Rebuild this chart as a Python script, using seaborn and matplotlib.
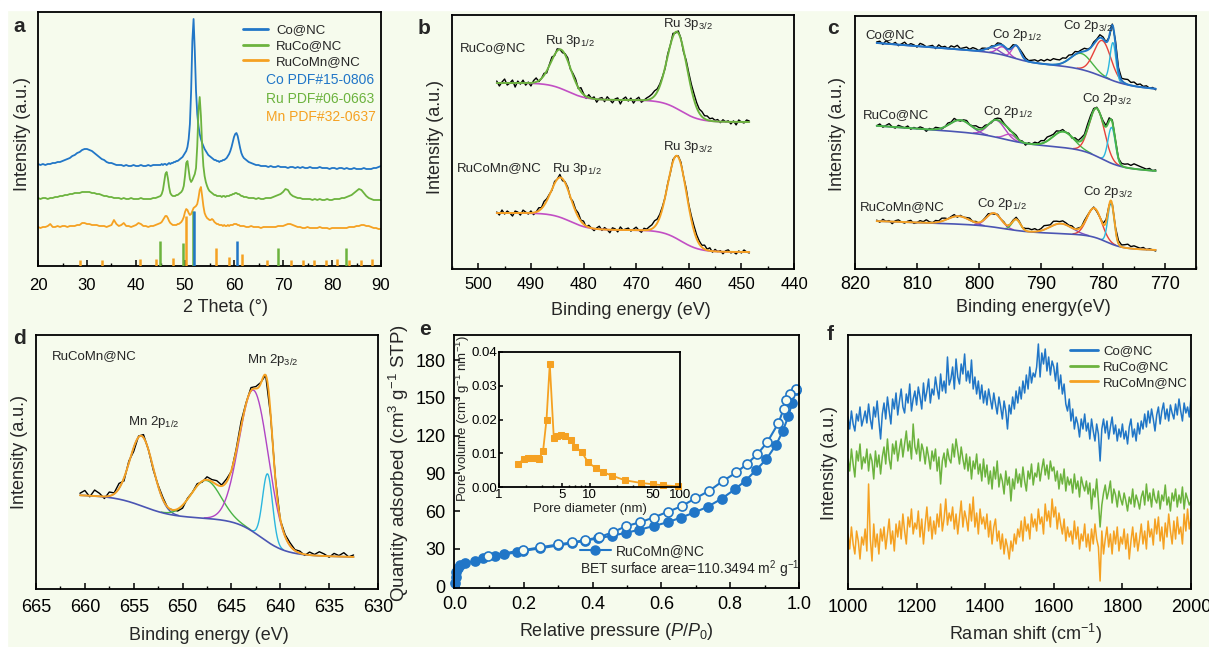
import numpy as np
import matplotlib
matplotlib.use("Agg")
import matplotlib.pyplot as plt
import seaborn as sns
from matplotlib.lines import Line2D
from matplotlib.patches import Rectangle
from matplotlib.ticker import (MultipleLocator, FixedLocator, NullLocator,
                               NullFormatter, FixedFormatter, FormatStrFormatter)

sns.set_style("ticks")
plt.rcParams["font.family"] = ["Liberation Sans", "DejaVu Sans"]
plt.rcParams["mathtext.fontset"] = "custom"
plt.rcParams["mathtext.rm"] = "Liberation Sans"
plt.rcParams["mathtext.it"] = "Liberation Sans:italic"
plt.rcParams["mathtext.bf"] = "Liberation Sans:bold"

W, H = 1209, 647
BG = "#f6fbed"
BLUE = "#2176c7"
GREEN = "#6cb33e"
ORANGE = "#f5a122"
MAGENTA = "#c24fc4"
SLATE = "#4b55b3"
RED = "#e8413a"
CYAN = "#2bb6de"
PURPLE = "#7b4fc2"
VIOLET = "#b044c4"
FITGREEN = "#49b345"

# ---------------- (a) XRD patterns ----------------
sample_names = ["Co@NC", "RuCo@NC", "RuCoMn@NC"]
xrd_theta = np.concatenate([np.arange(20, 45, 0.5), np.arange(45, 62, 0.25),
                            np.arange(62, 90.25, 0.5)])
xrd_co = [102, 101, 102, 101, 102, 102, 103, 103, 104, 104, 105, 106, 107, 108, 110, 111, 113, 114, 116, 117,
          117, 116, 115, 113, 111, 109, 107, 106, 104, 103, 103, 102, 101, 101, 101, 100, 101, 100, 100, 101,
          100, 100, 101, 100, 100, 101, 100, 101, 101, 101,
          101, 102, 101, 102, 102, 101, 102, 103, 102, 103, 103, 104, 104, 105, 105, 106, 107, 108, 109, 111,
          113, 115, 119, 127, 142, 175, 225, 247, 215, 175, 152, 140, 132, 127, 123, 120, 117, 115, 113, 111,
          110, 109, 108, 107, 106, 106, 105, 105, 104, 105, 105, 106, 106, 107, 108, 110, 112, 115, 119, 124,
          129, 132, 133, 130, 124, 118, 113, 110,
          108, 106, 104, 103, 102, 101, 101, 100, 100, 100, 99, 100, 99, 99, 100, 99, 99, 99, 98, 99,
          99, 98, 99, 98, 99, 98, 98, 99, 98, 98, 98, 99, 98, 98, 98, 97, 98, 98, 97, 98,
          98, 97, 98, 97, 97, 98, 97, 97, 97, 98, 97, 97, 97, 98, 98, 99, 100]
xrd_ruco = [68, 67, 68, 68, 67, 68, 68, 69, 69, 70, 70, 71, 71, 72, 72, 73, 73, 73, 74, 74,
            74, 74, 73, 73, 72, 72, 71, 70, 70, 69, 69, 68, 68, 68, 67, 68, 67, 67, 68, 67,
            67, 67, 68, 67, 67, 67, 67, 68, 68, 69,
            70, 72, 76, 84, 92, 94, 88, 79, 73, 71, 70, 70, 70, 71, 71, 72, 73, 74, 76, 80,
            90, 103, 105, 96, 87, 84, 86, 89, 92, 98, 120, 155, 169, 150, 120, 100, 90, 84, 80, 77,
            75, 74, 73, 72, 71, 71, 70, 70, 70, 70, 69, 70, 70, 69, 70, 70, 70, 71, 71, 72,
            72, 73, 73, 72, 72, 71, 70, 70,
            69, 69, 68, 68, 68, 67, 68, 67, 67, 68, 68, 68, 69, 70, 71, 72, 74, 77, 76, 72,
            70, 69, 68, 68, 67, 67, 67, 67, 66, 67, 66, 67, 66, 66, 67, 66, 66, 67, 67, 67,
            68, 68, 69, 70, 71, 73, 75, 77, 76, 73, 70, 68, 67, 66, 66, 66, 66]
xrd_rucomn = [39, 38, 39, 39, 40, 42, 39, 39, 40, 39, 40, 40, 39, 40, 40, 40, 41, 41, 43, 43,
              42, 42, 41, 41, 41, 40, 40, 40, 39, 40, 41, 46, 42, 40, 41, 43, 40, 40, 39, 40,
              41, 43, 42, 40, 40, 39, 40, 40, 41, 42,
              43, 44, 46, 48, 50, 50, 48, 45, 43, 42, 41, 41, 41, 41, 42, 42, 43, 44, 46, 49,
              54, 57, 56, 53, 51, 52, 55, 58, 59, 60, 62, 68, 76, 79, 70, 60, 53, 50, 48, 47,
              46, 46, 47, 46, 44, 43, 42, 42, 41, 41, 41, 40, 41, 40, 40, 41, 40, 41, 41, 41,
              42, 42, 42, 41, 41, 40, 40, 40,
              40, 39, 39, 40, 39, 39, 39, 38, 39, 39, 39, 39, 39, 39, 40, 40, 40, 41, 42, 42,
              41, 40, 39, 39, 38, 38, 39, 38, 38, 38, 38, 39, 38, 38, 38, 37, 38, 38, 38, 38,
              38, 38, 38, 39, 39, 39, 40, 40, 41, 41, 40, 40, 39, 38, 38, 37, 37]
pdf_labels = ["Co PDF#15-0806", "Ru PDF#06-0663", "Mn PDF#32-0637"]
co_pdf_pos = [51.8, 60.6]
co_pdf_h = [55, 25]
ru_pdf_pos = [44.9, 49.5, 51.6, 68.9, 82.8]
ru_pdf_h = [25, 23, 55, 18, 18]
mn_pdf_pos = [28.6, 33.0, 40.8, 44.1, 47.5, 50.3, 56.3, 59.0, 61.6, 66.7, 71.6, 74.0,
              76.4, 78.8, 81.1, 83.5, 85.9, 88.1]
mn_pdf_h = [6, 6, 7, 7, 8, 50, 18, 9, 12, 6, 6, 6, 6, 6, 7, 6, 6, 7]

# ---------------- (b) Ru 3p XPS ----------------
b_raw_be = np.arange(496.5, 448.4, -0.5)
b_fit_be = np.linspace(496.5, 448.5, 600)
b_centers = [484.3, 462.2]
b_ruco_height = [39, 77]
b_ruco_fwhm = [4.4, 4.4]
b_rucomn_height = [40, 83]
b_rucomn_fwhm = [4.3, 4.2]
b_ruco_bg = dict(base=147, slope=0.0, centers=[483.0, 461.5], sizes=[17, 22], widths=[1.8, 1.8])
b_rucomn_bg = dict(base=17, slope=0.0, centers=[482.5, 461.5], sizes=[17, 22], widths=[1.8, 1.8])
b_ruco_resid = [2, -3, 1, 4, -2, 0, 3, -4, 2, -1, 3, -2, 1, -3, 2, 4, -1, 0, 2, -2,
                1, 3, -1, 2, 0, -2, 1, 3, -1, 2, 3, -1, 4, 1, -2, 3, 0, 2, -3, 1,
                2, -2, 3, 0, -3, 1, 2, -4, 1, 3, -1, 2, -3, 1, 3, -2, 0, 2, 3, 4,
                5, 3, 2, 1, -1, 2, 0, 3, -1, 2, 1, -2, 3, 4, 5, 6, 5, 4, 5, 3,
                4, 2, 3, 1, 2, -1, 2, 0, 1, -2, 1, -3, 2, 0, -1, 2, 1]
b_rucomn_resid = [1, -2, 3, -1, 2, 0, -3, 2, 1, -2, 3, 1, -1, 2, -2, 0, 3, 1, 4, 2,
                  1, -1, 2, 0, 3, -2, 1, 2, -1, 3, 2, 4, 1, 3, -1, 2, 0, -2, 1, 3,
                  -1, 2, 0, -3, 2, 1, -2, 3, 0, 1, 2, -1, 1, 3, 0, -2, 2, 1, 3, 4,
                  6, 4, 3, 2, 0, 1, -1, 2, 0, 1, 2, 0, 3, 2, 4, 5, 4, 3, 2, 4,
                  1, 3, -1, 2, 0, 1, -2, 1, 2, -1, 0, -2, 1, -1, 2, 0, -1]

# ---------------- (c) Co 2p XPS ----------------
c_raw_be = np.arange(816.5, 771.4, -0.5)
c_fit_be = np.linspace(816.5, 771.5, 800)
c_co_centers = [797.8, 796.2, 794.0, 783.5, 780.1, 778.4]
c_co_height = [5, 8, 13, 16, 36, 38]
c_co_fwhm = [2.5, 2.0, 1.6, 4.0, 3.2, 1.1]
c_co_colors = [PURPLE, VIOLET, MAGENTA, FITGREEN, RED, CYAN]
c_co_bg = dict(base=180, slope=0.49, centers=[794.5, 780.0], sizes=[8, 16], widths=[1.5, 2.0])
c_ruco_centers = [803.0, 797.2, 795.0, 786.4, 781.0, 778.6]
c_ruco_height = [12, 17, 6, 16, 48, 36]
c_ruco_fwhm = [4.0, 3.2, 2.2, 4.0, 2.9, 1.4]
c_ruco_colors = [PURPLE, VIOLET, MAGENTA, FITGREEN, RED, CYAN]
c_ruco_bg = dict(base=98, slope=0.45, centers=[796.0, 780.3], sizes=[8, 17], widths=[2.0, 1.6])
c_rucomn_centers = [803.3, 797.6, 794.0, 786.8, 781.4, 778.7]
c_rucomn_height = [8, 14, 11, 10, 29, 41]
c_rucomn_fwhm = [4.0, 2.8, 1.6, 4.2, 2.8, 1.2]
c_rucomn_colors = [PURPLE, VIOLET, FITGREEN, PURPLE, RED, CYAN]
c_rucomn_bg = dict(base=19, slope=0.22, centers=[796.0, 779.5], sizes=[6, 13], widths=[2.0, 1.3])
c_co_resid = [1, 2, -1, 3, 1, 0, 2, -1, 1, 3, 0, 2, 1, -1, 3, 2, 0, 1, 2, -1,
              3, 1, 2, 0, 3, 2, 4, 1, 2, 3, 1, 3, 2, 0, 2, 1, -1, 1, 0, 2,
              1, 0, -1, 1, 2, 0, 1, 3, 2, 1, 2, 3, 2, 4, 3, 5, 4, 6, 5, 4,
              5, 3, 4, 2, 3, 1, 2, 3, 1, 0, 2, 1, 3, 2, 0, -1, 1, 4, 3, 2,
              4, 5, 3, 4, 2, 3, 1, 2, 0, 1, -1]
c_ruco_resid = [0, 2, -1, 1, 3, 0, -1, 2, 1, 0, 2, -1, 1, 0, 2, 1, -2, 1, 0, 2,
                1, -1, 0, 2, 1, 3, 0, -1, 1, 2, 0, 1, 3, 2, 1, 2, 0, -1, 1, 2,
                3, 1, 0, -1, 1, 2, 0, 1, -2, 1, 0, 2, 1, 3, 2, 4, 3, 2, 3, 1,
                2, 0, 1, -1, 2, 1, 3, 2, 4, 3, 2, 1, 0, 2, 1, 3, 2, 1, 0, 2,
                3, 4, 3, 5, 4, 3, 2, 1, 2, 0, 1]
c_rucomn_resid = [1, -1, 2, 0, 1, -2, 1, 2, 0, -1, 1, 2, -1, 0, 2, 1, 3, 1, 0, 2,
                  1, 3, 2, 0, 1, 2, -1, 1, 0, 1, 2, 0, 1, -1, 0, 1, 2, 0, -1, 1,
                  0, 1, -1, 0, 1, 2, 1, 0, 2, 3, 2, 3, 1, 2, 4, 3, 2, 4, 3, 2,
                  3, 2, 1, 2, 0, 1, 0, 2, 1, 0, 1, -1, 0, 1, 2, 0, 1, 2, 3, 2,
                  3, 4, 2, 3, 2, 1, 2, 0, 1, 0, -1]

# ---------------- (d) Mn 2p XPS ----------------
d_raw_be = np.arange(660.5, 632.4, -0.5)
d_fit_be = np.linspace(660.5, 632.5, 600)
d_centers = [654.2, 647.6, 642.7, 641.3]
d_height = [70, 38, 142, 68]
d_fwhm = [2.8, 3.6, 3.5, 1.2]
d_colors = [SLATE, FITGREEN, VIOLET, CYAN]
d_bg = dict(base=32, slope=0.25, centers=[642.0, 654.0], sizes=[35, 20], widths=[1.3, 1.5])
d_resid = [2, 5, -1, 6, 3, -2, 4, 1, 5, -3, 2, -4, 1, 3, 0, -2, 1, 2, -1, 0,
           -2, -3, 1, 0, 2, -1, 3, 2, 4, 1, 3, -1, 2, 5, 1, 3, 2, 1, 0, -2,
           1, -1, 2, 3, 1, 2, -1, 3, 1, 4, 2, -1, 3, 1, 4, 0, 2]

# ---------------- (e) N2 isotherm and pore size distribution ----------------
bet_p_ads = [0.001, 0.002, 0.004, 0.008, 0.015, 0.03, 0.058, 0.081, 0.117, 0.141, 0.18,
             0.199, 0.247, 0.30, 0.339, 0.377, 0.416, 0.456, 0.498, 0.536, 0.577, 0.619,
             0.657, 0.696, 0.734, 0.775, 0.814, 0.845, 0.874, 0.905, 0.934, 0.953, 0.969,
             0.98, 0.99]
bet_q_ads = [3, 8, 12, 15, 17, 18.5, 20.6, 22.5, 24.4, 25.7, 27.3, 28.5, 30.5, 32.8, 34.5,
             36.5, 38.5, 40.5, 42.9, 45.3, 48.2, 51.3, 55, 59, 63.5, 69.9, 77.5, 84.4, 92.4,
             101.3, 113, 123.8, 135.5, 146, 156.5]
bet_p_des = [0.99, 0.975, 0.963, 0.956, 0.94, 0.908, 0.879, 0.848, 0.818, 0.778, 0.739,
             0.698, 0.659, 0.619, 0.577, 0.539, 0.498, 0.459, 0.418, 0.377, 0.339, 0.30,
             0.247, 0.199, 0.097]
bet_q_des = [157, 153.5, 148, 141.6, 130, 115, 105.3, 97.4, 90.8, 83.9, 76.2, 70.2, 64,
             59.6, 55, 51.3, 48.2, 43.4, 39.2, 37, 35.2, 33.6, 31.3, 29.1, 24.5]
bet_label = "RuCoMn@NC"
bet_area_text = "BET surface area=110.3494 m$^2$ g$^{-1}$"
pore_d = [1.62, 1.88, 2.09, 2.34, 2.63, 2.8, 3.07, 3.35, 3.64, 4.03, 4.38, 4.85, 5.37,
          6.17, 6.98, 8.17, 9.67, 11.9, 14.1, 17.6, 24.6, 37.0, 50.8, 65.3, 94.5]
pore_v = [0.0067, 0.0084, 0.0087, 0.0087, 0.0086, 0.0084, 0.0107, 0.020, 0.0364, 0.0146,
          0.0152, 0.0155, 0.0152, 0.0139, 0.0119, 0.0104, 0.0073, 0.0055, 0.0044, 0.0034,
          0.0020, 0.0012, 0.0008, 0.0005, 0.0002]

# ---------------- (f) Raman spectra ----------------
raman_shift = np.arange(1000, 2000.5, 5)
raman_co = [172, 160, 178, 165, 158, 175, 168, 182, 163, 170, 178, 166, 185, 170, 160, 182, 172, 188, 168, 150,
            175, 186, 170, 192, 178, 165, 190, 180, 196, 174, 188, 200, 182, 176, 195, 186, 205, 178, 190, 198,
            184, 202, 192, 180, 206, 188, 198, 210, 186, 200, 194, 212, 200, 190, 215, 198, 208, 196, 232, 204,
            210, 222, 200, 230, 212, 205, 225, 215, 235, 208, 218, 206, 229, 200, 212, 195, 208, 190, 204, 186,
            198, 184, 200, 190, 180, 196, 185, 175, 192, 182, 170, 188, 178, 160, 184, 175, 192, 180, 198, 186,
            202, 190, 208, 196, 214, 200, 222, 206, 216, 212, 222, 245, 212, 236, 225, 240, 218, 232, 214, 228,
            222, 208, 226, 200, 214, 195, 205, 185, 178, 190, 168, 180, 160, 172, 165, 152, 170, 160, 175, 158,
            166, 150, 170, 158, 148, 165, 155, 128, 160, 170, 156, 168, 150, 162, 172, 155, 164, 148, 160, 152,
            165, 150, 158, 145, 162, 170, 152, 160, 148, 166, 155, 168, 160, 175, 162, 178, 166, 180, 170, 158,
            174, 182, 165, 178, 186, 170, 180, 168, 184, 176, 170, 185, 174, 190, 178, 168, 186, 176, 182, 172,
            192]
raman_ruco = [130, 118, 140, 125, 112, 138, 128, 145, 120, 132, 126, 140, 118, 135, 128, 110, 138, 122, 134, 115,
              132, 142, 125, 150, 130, 120, 145, 135, 148, 128, 140, 150, 132, 145, 158, 138, 148, 130, 165, 142,
              135, 150, 128, 145, 138, 125, 142, 132, 120, 138, 128, 140, 118, 132, 105, 128, 136, 122, 140, 130,
              126, 145, 132, 150, 138, 125, 142, 130, 120, 135, 118, 132, 110, 128, 120, 135, 115, 125, 108, 130,
              112, 124, 105, 118, 100, 122, 110, 128, 102, 115, 108, 95, 118, 104, 112, 88, 110, 100, 120, 106,
              115, 102, 122, 108, 98, 118, 110, 125, 104, 116, 112, 126, 108, 120, 130, 114, 124, 110, 128, 118,
              122, 108, 118, 100, 115, 105, 120, 98, 112, 104, 110, 96, 115, 100, 108, 92, 112, 104, 98, 108,
              95, 106, 80, 100, 92, 110, 88, 62, 84, 96, 104, 90, 98, 108, 86, 100, 94, 82, 98, 90,
              84, 96, 88, 78, 92, 85, 100, 82, 94, 88, 80, 92, 98, 84, 105, 88, 96, 82, 100, 90,
              86, 98, 80, 94, 88, 104, 84, 92, 78, 96, 88, 100, 82, 94, 86, 102, 80, 96, 90, 84,
              88]
raman_rucomn = [55, 40, 62, 45, 35, 58, 48, 30, 52, 44, 60, 38, 105, 50, 28, 65, 42, 55, 35, 60,
                48, 62, 40, 55, 70, 45, 58, 38, 65, 52, 68, 50, 75, 58, 45, 72, 62, 80, 55, 66,
                60, 78, 52, 70, 45, 65, 82, 58, 72, 50, 68, 55, 75, 62, 85, 58, 70, 90, 64, 76,
                68, 82, 60, 75, 55, 72, 88, 62, 78, 70, 58, 85, 68, 92, 62, 76, 55, 80, 65, 72,
                60, 75, 52, 68, 45, 62, 70, 48, 58, 40, 55, 35, 50, 42, 30, 48, 38, 55, 45, 60,
                52, 68, 48, 72, 58, 65, 50, 75, 62, 70, 58, 80, 65, 72, 55, 85, 68, 78, 62, 90,
                72, 82, 60, 76, 65, 55, 70, 48, 62, 52, 58, 45, 68, 50, 62, 40, 55, 48, 65, 42,
                55, 38, 60, 45, 65, 50, 42, 8, 58, 35, 50, 62, 42, 55, 35, 58, 45, 62, 38, 52,
                45, 60, 40, 55, 30, 48, 62, 42, 56, 38, 50, 65, 45, 58, 40, 68, 52, 60, 44, 70,
                55, 72, 48, 62, 40, 66, 52, 75, 58, 45, 68, 50, 72, 55, 62, 45, 75, 58, 80, 60,
                70]


# ---------------- helpers ----------------
def gauss(x, c, h, f):
    return h * np.exp(-4 * np.log(2) * ((x - c) / f) ** 2)


def step_bg(x, base, slope, centers, sizes, widths):
    y = base + slope * (x - x.min())
    for c, s, w in zip(centers, sizes, widths):
        y = y + s / (1 + np.exp(-(x - c) / w))
    return y


fig = plt.figure(figsize=(W / 100, H / 100), dpi=100, facecolor=BG)
fig.patches.append(Rectangle((0, 1 - 10 / H), 1, 10 / H, transform=fig.transFigure,
                             color="white", zorder=-5))
fig.patches.append(Rectangle((0, 0), 7 / W, 1, transform=fig.transFigure,
                             color="white", zorder=-5))


def fxy(x, y):
    return (x / W, 1 - y / H)


def frame(l, t, r, b):
    ax = fig.add_axes([l / W, 1 - b / H, (r - l) / W, (b - t) / H])
    ax.set_facecolor(BG)
    for s in ax.spines.values():
        s.set_visible(True)
        s.set_linewidth(1.3)
        s.set_color("black")
    ax.tick_params(which="both", direction="in", top=False, right=False, colors="black")
    ax.tick_params(which="major", length=4, width=1.1)
    ax.tick_params(which="minor", length=2.5, width=1.0)
    return ax


def labels(ax, xlab, xc, ylab, yc, size=13, ysize=None):
    ax.set_xlabel(xlab, fontsize=size, va="center", ha="center")
    ax.xaxis.set_label_coords(*fxy(*xc), transform=fig.transFigure)
    ax.set_ylabel(ylab, fontsize=ysize or size, va="center", ha="center")
    ax.yaxis.set_label_coords(*fxy(*yc), transform=fig.transFigure)


def note(text, x, y, size=9.5, ha="left", **kw):
    fig.text(x / W, 1 - y / H, text, fontsize=size, ha=ha, va="center", **kw)


def line(ax, x, y, color, lw=1.2, z=2, **kw):
    sns.lineplot(x=np.asarray(x, float), y=np.asarray(y, float), ax=ax, color=color,
                 linewidth=lw, sort=False, estimator=None, legend=False, zorder=z, **kw)


def no_y(ax):
    ax.yaxis.set_major_locator(NullLocator())
    ax.yaxis.set_minor_locator(NullLocator())


def xps(ax, fit_be, raw_be, resid, bg_par, centers, heights, fwhms, comp_colors, env_color,
        bg_color):
    bg = step_bg(fit_be, **bg_par)
    comps = [gauss(fit_be, c, h, f) for c, h, f in zip(centers, heights, fwhms)]
    env = bg + np.sum(comps, axis=0)
    raw_bg = step_bg(raw_be, **bg_par)
    raw = raw_bg + np.sum([gauss(raw_be, c, h, f) for c, h, f in zip(centers, heights, fwhms)],
                          axis=0) + np.asarray(resid, float)
    line(ax, raw_be, raw, "black", 1.0, z=2)
    for comp, col in zip(comps, comp_colors):
        m = comp > 0.4
        line(ax, fit_be[m], (bg + comp)[m], col, 1.0, z=3)
    line(ax, fit_be, bg, bg_color, 1.2, z=4)
    line(ax, fit_be, env, env_color, 1.4, z=5)


# ---------------- panel a ----------------
ax = frame(38, 12, 381, 266)
for ys, col in zip([xrd_co, xrd_ruco, xrd_rucomn], [BLUE, GREEN, ORANGE]):
    line(ax, xrd_theta, ys, col, 1.3)
ax.vlines(mn_pdf_pos, 0, mn_pdf_h, color=ORANGE, lw=1.8, zorder=3)
ax.vlines(ru_pdf_pos, 0, ru_pdf_h, color=GREEN, lw=1.8, zorder=3)
ax.vlines(co_pdf_pos, 0, co_pdf_h, color=BLUE, lw=1.8, zorder=3)
ax.set_xlim(20, 90)
ax.set_ylim(0, 254)
ax.xaxis.set_major_locator(MultipleLocator(10))
ax.xaxis.set_minor_locator(MultipleLocator(5))
no_y(ax)
ax.tick_params(axis="x", labelsize=12, pad=9)
labels(ax, "2 Theta (\u00b0)", (226, 308), "Intensity (a.u.)", (23, 134))
hs = [Line2D([], [], color=c, lw=2) for c in (BLUE, GREEN, ORANGE)]
ax.legend(hs, sample_names, loc="upper left", bbox_to_anchor=fxy(243, 24),
          bbox_transform=fig.transFigure, frameon=False, fontsize=9.5, handlelength=1.9,
          handletextpad=0.6, labelspacing=0.28, borderpad=0, borderaxespad=0)
for txt, col, yy in zip(pdf_labels, [BLUE, GREEN, ORANGE], [80, 99, 117]):
    note(txt, 266, yy, size=10, color=col)

# ---------------- panel b ----------------
ax = frame(452, 15, 794, 269)
xps(ax, b_fit_be, b_raw_be, b_ruco_resid, b_ruco_bg, b_centers, b_ruco_height, b_ruco_fwhm,
    [], GREEN, MAGENTA)
xps(ax, b_fit_be, b_raw_be, b_rucomn_resid, b_rucomn_bg, b_centers, b_rucomn_height,
    b_rucomn_fwhm, [], ORANGE, MAGENTA)
ax.set_xlim(505, 440)
ax.set_ylim(0, 254)
ax.xaxis.set_major_locator(MultipleLocator(10))
ax.xaxis.set_minor_locator(MultipleLocator(5))
no_y(ax)
ax.tick_params(axis="x", labelsize=12, pad=6)
labels(ax, "Binding energy (eV)", (631, 310), "Intensity (a.u.)", (436, 137))
note("RuCo@NC", 460, 48)
note("Ru 3p$_{1/2}$", 545, 41)
note("Ru 3p$_{3/2}$", 663, 24)
note("RuCoMn@NC", 457, 168)
note("Ru 3p$_{1/2}$", 552, 169)
note("Ru 3p$_{3/2}$", 663, 147)

# ---------------- panel c ----------------
ax = frame(855, 16, 1196, 269)
xps(ax, c_fit_be, c_raw_be, c_co_resid, c_co_bg, c_co_centers, c_co_height, c_co_fwhm,
    c_co_colors, BLUE, SLATE)
xps(ax, c_fit_be, c_raw_be, c_ruco_resid, c_ruco_bg, c_ruco_centers, c_ruco_height,
    c_ruco_fwhm, c_ruco_colors, FITGREEN, SLATE)
xps(ax, c_fit_be, c_raw_be, c_rucomn_resid, c_rucomn_bg, c_rucomn_centers, c_rucomn_height,
    c_rucomn_fwhm, c_rucomn_colors, ORANGE, SLATE)
ax.set_xlim(820, 765)
ax.set_ylim(0, 253)
ax.xaxis.set_major_locator(MultipleLocator(10))
ax.xaxis.set_minor_locator(MultipleLocator(5))
no_y(ax)
ax.tick_params(axis="x", labelsize=13, pad=5)
labels(ax, "Binding energy(eV)", (1033, 307), "Intensity (a.u.)", (837, 134))
note("Co@NC", 865, 35)
note("Co 2p$_{1/2}$", 992, 35)
note("Co 2p$_{3/2}$", 1063, 26)
note("RuCo@NC", 863, 115)
note("Co 2p$_{1/2}$", 983, 112)
note("Co 2p$_{3/2}$", 1082, 99)
note("RuCoMn@NC", 860, 207)
note("Co 2p$_{1/2}$", 977, 204)
note("Co 2p$_{3/2}$", 1083, 192)

# ---------------- panel d ----------------
ax = frame(36, 335, 378, 589)
xps(ax, d_fit_be, d_raw_be, d_resid, d_bg, d_centers, d_height, d_fwhm, d_colors,
    ORANGE, SLATE)
ax.set_xlim(665, 630)
ax.set_ylim(0, 254)
ax.xaxis.set_major_locator(MultipleLocator(5))
ax.xaxis.set_minor_locator(MultipleLocator(2.5))
no_y(ax)
ax.tick_params(axis="x", labelsize=13, pad=7)
labels(ax, "Binding energy (eV)", (209, 635), "Intensity (a.u.)", (20, 452))
note("RuCoMn@NC", 52, 356)
note("Mn 2p$_{1/2}$", 128, 422)
note("Mn 2p$_{3/2}$", 247, 360)

# ---------------- panel e ----------------
ax = frame(454, 335, 799, 588)
line(ax, bet_p_ads, bet_q_ads, BLUE, 1.5, marker="o", markersize=6.5,
     markerfacecolor=BLUE, markeredgecolor=BLUE, markeredgewidth=1.2, clip_on=False)
line(ax, bet_p_des, bet_q_des, BLUE, 1.5, marker="o", markersize=6.5,
     markerfacecolor=BG, markeredgecolor=BLUE, markeredgewidth=1.2, clip_on=False)
ax.set_xlim(-0.003, 1.0)
ax.set_ylim(-1, 200)
ax.xaxis.set_major_locator(MultipleLocator(0.2))
ax.xaxis.set_minor_locator(MultipleLocator(0.1))
ax.yaxis.set_major_locator(MultipleLocator(30))
ax.yaxis.set_minor_locator(NullLocator())
ax.xaxis.set_major_formatter(FormatStrFormatter("%.1f"))
ax.tick_params(axis="both", labelsize=13, pad=6)
labels(ax, "Relative pressure ($P$/$P_0$)", (616, 632),
       "Quantity adsorbed (cm$^3$ g$^{-1}$ STP)", (399, 463), ysize=13.5)
leg_h = [Line2D([], [], color=BLUE, lw=1.5, marker="o", markersize=6.5)]
ax.legend(leg_h, [bet_label], loc="upper left", bbox_to_anchor=fxy(580, 544),
          bbox_transform=fig.transFigure, frameon=False, fontsize=10, handlelength=2.2,
          handletextpad=0.4, borderpad=0, borderaxespad=0)
note(bet_area_text, 580, 569, size=10)

ins = frame(499, 352, 680, 487)
ins.set_zorder(5)
line(ins, pore_d, pore_v, ORANGE, 1.3, marker="s", markersize=4.5,
     markerfacecolor=ORANGE, markeredgecolor=ORANGE, clip_on=False)
ins.set_xscale("log")
ins.set_xlim(1, 100)
ins.set_ylim(0, 0.04)
ins.xaxis.set_major_locator(FixedLocator([1, 5, 10, 50, 100]))
ins.xaxis.set_major_formatter(FixedFormatter(["1", "5", "10", "50", "100"]))
ins.xaxis.set_minor_locator(FixedLocator([2, 3, 4, 6, 7, 8, 9, 20, 30, 40, 60, 70, 80, 90]))
ins.xaxis.set_minor_formatter(NullFormatter())
ins.yaxis.set_major_locator(MultipleLocator(0.01))
ins.yaxis.set_major_formatter(FormatStrFormatter("%.2f"))
ins.tick_params(axis="both", labelsize=9.5, pad=1.5)
ins.tick_params(which="major", length=3)
ins.tick_params(which="minor", length=1.8)
labels(ins, "Pore diameter (nm)", (590, 509), "Pore volume (cm$^3$ g$^{-1}$ nm$^{-1}$)",
       (463, 419), size=9.5)

# ---------------- panel f ----------------
ax = frame(848, 335, 1191, 589)
for ys, col in zip([raman_co, raman_ruco, raman_rucomn], [BLUE, GREEN, ORANGE]):
    line(ax, raman_shift, ys, col, 1.1)
ax.set_xlim(1000, 2000)
ax.set_ylim(0, 254)
ax.xaxis.set_major_locator(MultipleLocator(200))
ax.xaxis.set_minor_locator(MultipleLocator(100))
no_y(ax)
ax.tick_params(axis="x", labelsize=13, pad=7)
labels(ax, "Raman shift (cm$^{-1}$)", (1025, 634), "Intensity (a.u.)", (829, 463))
hs = [Line2D([], [], color=c, lw=2) for c in (BLUE, GREEN, ORANGE)]
ax.legend(hs, sample_names, loc="upper left", bbox_to_anchor=fxy(1070, 345),
          bbox_transform=fig.transFigure, frameon=False, fontsize=9.5, handlelength=2.1,
          handletextpad=0.4, labelspacing=0.28, borderpad=0, borderaxespad=0)

# panel letters
for letter, (lx, ly) in zip("abcdef", [(19, 27), (424, 29), (833, 28), (19, 339),
                                       (425, 330), (830, 335)]):
    fig.text(lx / W, 1 - ly / H, letter, fontsize=15, fontweight="bold", ha="center",
             va="center")

fig.savefig("out.png", dpi=100, facecolor=BG)
